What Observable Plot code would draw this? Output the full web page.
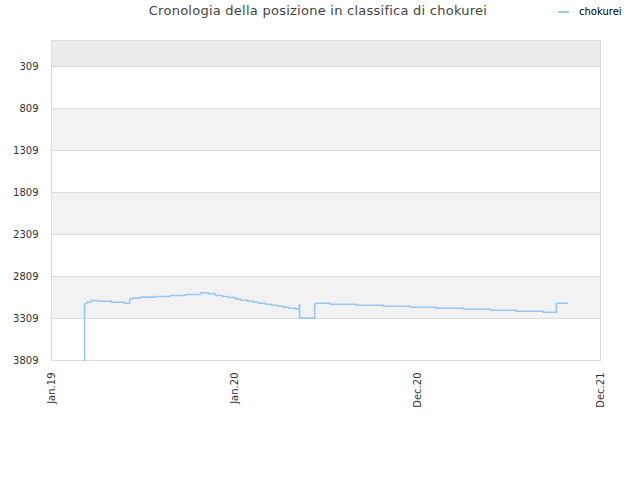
<!DOCTYPE html>
<html>
<head>
<meta charset="utf-8">
<script src="https://cdn.jsdelivr.net/npm/d3@7"></script>
<script src="https://cdn.jsdelivr.net/npm/@observablehq/plot@0.6"></script>
<style>
  body { margin: 0; background: #fff; font-family: "DejaVu Sans", sans-serif; }
  #wrap { width: 640px; position: relative; }
  #head { height: 26px; position: relative; }
  #title { position: absolute; left: 0; width: 636px; top: 3px; text-align: center; font-size: 13px; letter-spacing: 0.25px; color: #444; }
  #legend { position: absolute; left: 558px; top: 6px; font-size: 10px; color: #000; display: flex; align-items: center; white-space: nowrap; }
  #legend span.sw { display: inline-block; width: 11px; height: 2px; background: #99c7f2; margin-right: 10px; }
</style>
</head>
<body>
<div id="wrap">
  <div id="head">
    <div id="title">Cronologia della posizione in classifica di chokurei</div>
    <div id="legend"><span class="sw"></span><span>chokurei</span></div>
  </div>
  <div id="chart"></div>
</div>
<script>
const seriesName = "chokurei";
const dates = [
  "2019-03-08","2019-03-08","2019-03-12","2019-03-20","2019-04-05","2019-05-01","2019-05-27",
  "2019-06-06","2019-06-12","2019-06-28","2019-07-27","2019-08-26","2019-09-25","2019-10-25",
  "2019-11-10","2019-11-24","2019-12-08","2019-12-20","2020-01-03","2020-01-13","2020-01-27",
  "2020-02-08","2020-02-18","2020-03-03","2020-03-15","2020-03-27","2020-04-08","2020-04-18",
  "2020-05-02","2020-05-09","2020-05-10","2020-06-09","2020-06-13","2020-07-10","2020-08-31",
  "2020-10-24","2020-12-17","2021-02-07","2021-04-02","2021-05-26","2021-07-16","2021-09-08",
  "2021-10-04","2021-10-26"
];
const ranks = [
  3809,3134,3115,3095,3103,3115,3127,
  3075,3067,3055,3047,3035,3023,3003,
  3015,3035,3047,3059,3079,3091,3103,
  3115,3127,3139,3151,3163,3175,3187,
  3194,3146,3305,3134,3127,3139,3151,
  3163,3175,3187,3199,3210,3222,3234,
  3127,3127
];
const yTicks = [309, 809, 1309, 1809, 2309, 2809, 3309, 3809];
const yTop = 0;
const xTickDates = ["2019-01-01","2020-01-01","2020-12-31","2021-12-31"];
const xTickLabels = ["Jan.19","Jan.20","Dec.20","Dec.21"];

const data = dates.map((d, i) => ({date: new Date(d), rank: ranks[i]}));
const edges = [yTop, ...yTicks];
const bands = edges.slice(0, -1).map((v, i) => ({y1: v, y2: edges[i + 1], i}));
const bandFill = b => b.i === 0 ? "#ececec" : (b.i % 2 === 0 ? "#f2f2f2" : "#ffffff");
const xTicks = xTickDates.map(d => new Date(d));

const plot = Plot.plot({
  width: 640,
  height: 454,
  marginTop: 14,
  marginBottom: 120,
  marginLeft: 51,
  marginRight: 40,
  style: {fontFamily: "DejaVu Sans, sans-serif", fontSize: "10px", color: "#333", background: "#fff"},
  x: {type: "utc", domain: [xTicks[0], xTicks[xTicks.length - 1]]},
  y: {domain: [3809, yTop]},
  marks: [
    Plot.rectY(bands, {x1: xTicks[0], x2: xTicks[xTicks.length - 1], y1: "y1", y2: "y2", fill: bandFill}),
    Plot.ruleY(yTicks, {stroke: "#dcdcdc", strokeWidth: 1}),
    Plot.frame({stroke: "#dcdcdc"}),
    Plot.axisY({ticks: yTicks, tickSize: 0, tickPadding: 13, tickFormat: d => String(d), fill: "#333"}),
    Plot.axisX({ticks: xTicks, tickSize: 0, tickPadding: 12, tickRotate: -90,
      tickFormat: (d, i) => xTickLabels[i], fill: "#333"}),
    Plot.line(data, {x: "date", y: "rank", curve: "step-after", stroke: "#99c7f2", strokeWidth: 1.6})
  ]
});
document.getElementById("chart").appendChild(plot);
</script>
</body>
</html>
